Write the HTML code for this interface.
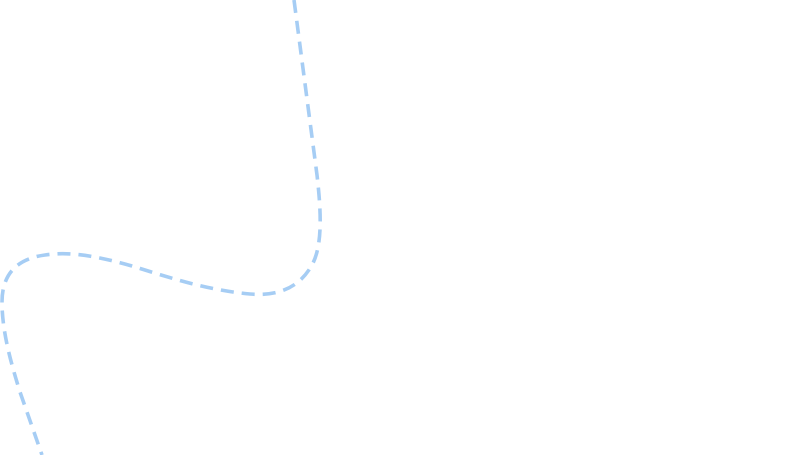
<!DOCTYPE html>
<html><head><meta charset="utf-8"><style>html,body{margin:0;padding:0;background:#fff;width:808px;height:455px;overflow:hidden}</style></head>
<body>
<svg width="808" height="455" viewBox="0 0 808 455" xmlns="http://www.w3.org/2000/svg">
<path d="M294,0 L317,175 C321,210 323,245 312,265 C298,290 275,296 250,294 C205,290 165,276 132,266 C100,257 72,251 45,255 C15,259 2,276 2,302 C2,330 10,360 20,392 L42,455" fill="none" stroke="#a6cdf4" stroke-width="3.6" stroke-dasharray="13 8" stroke-linecap="butt"/>
</svg>
</body></html>
